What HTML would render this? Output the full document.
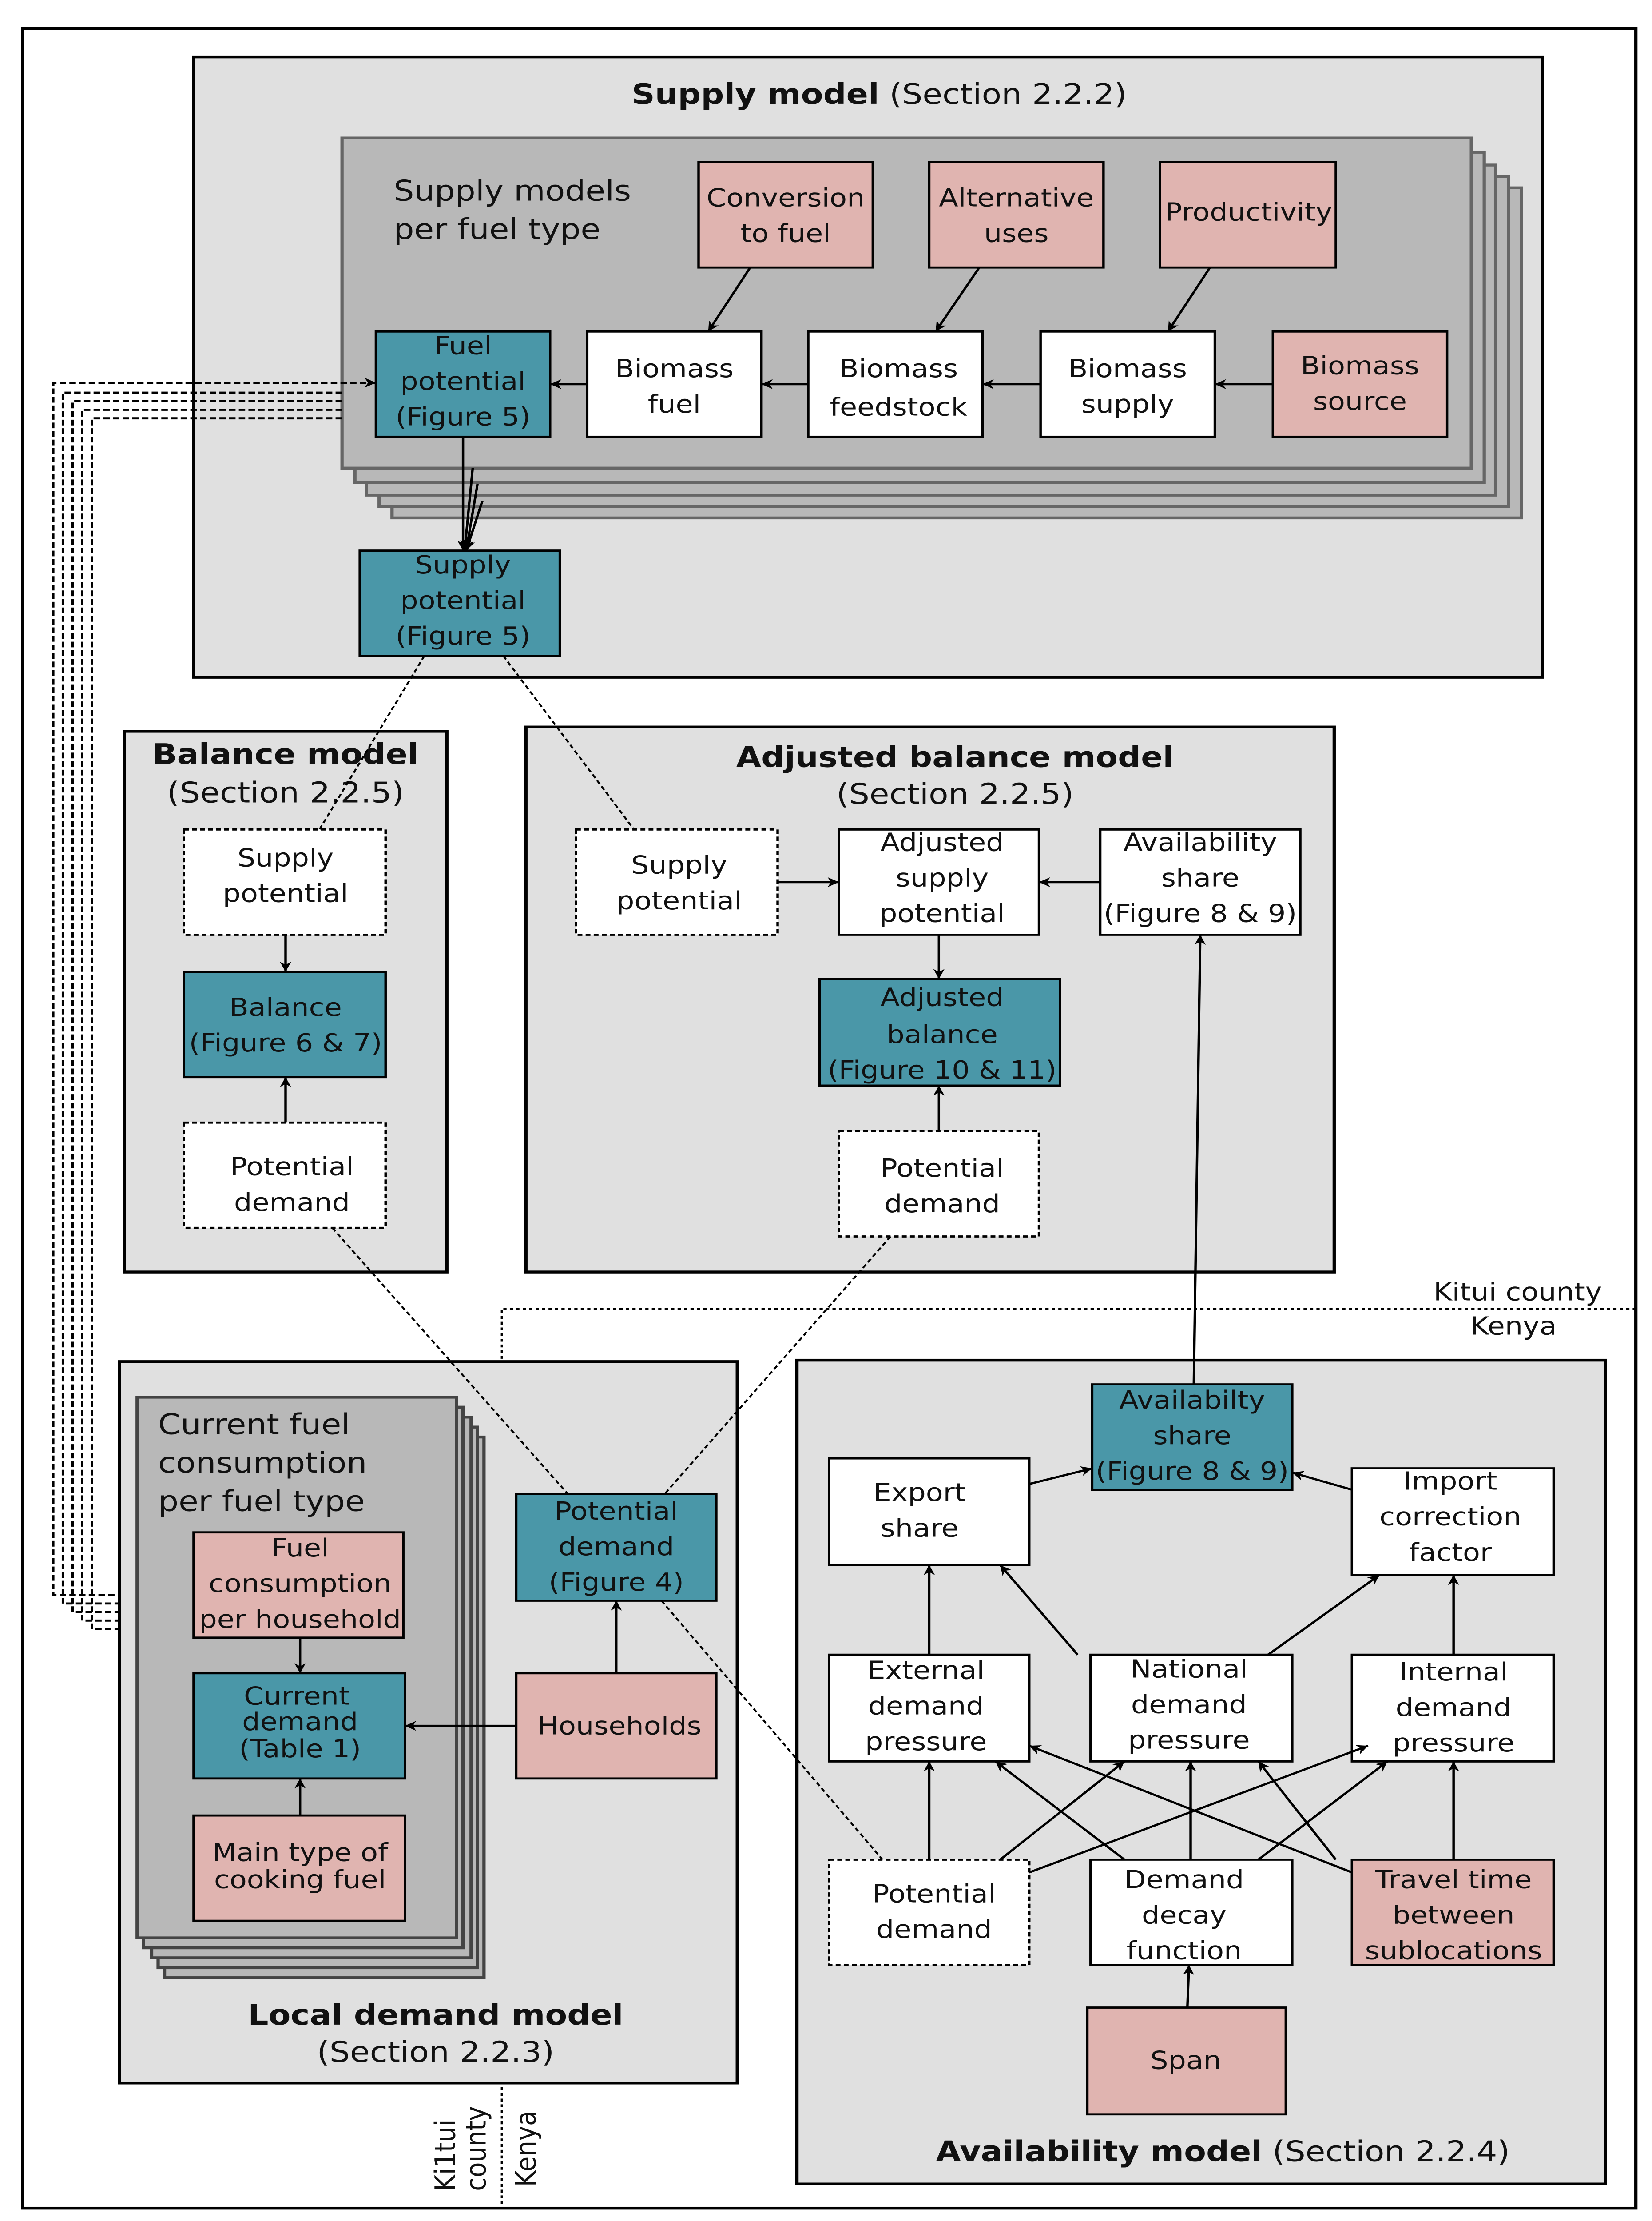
<!DOCTYPE html>
<html><head><meta charset="utf-8"><style>
html,body{margin:0;padding:0;background:#fff;width:100%;height:100%;overflow:hidden;}
svg{display:block;position:fixed;left:0;top:0;width:100vw;height:100vh;}
text{font-family:"DejaVu Sans","Liberation Sans",sans-serif;font-size:17.5px;fill:#111;text-anchor:middle;}
.b{font-weight:bold;font-size:20px;}
.t{font-size:20px;}
.l{text-anchor:start;font-size:20px;}
</style></head><body>
<svg viewBox="0 0 1024 1561" preserveAspectRatio="none" xmlns="http://www.w3.org/2000/svg">
<defs>
<marker id="a" viewBox="0 0 10 10" refX="10" refY="5" markerWidth="7" markerHeight="7" orient="auto-start-reverse" markerUnits="userSpaceOnUse"><path d="M0,0 L10,5 L0,10 L3,5 z" fill="#000"/></marker>
</defs>
<rect x="0" y="0" width="1024" height="1561" fill="#fff"/>
<rect x="14" y="20" width="1000" height="1532" fill="#fff" stroke="#000" stroke-width="2"/>

<rect x="120" y="40" width="836" height="436" fill="#e0e0e0" stroke="#000" stroke-width="2"/>
<text x="545" y="73" class="t"><tspan font-weight="bold">Supply model</tspan> (Section 2.2.2)</text>
<g fill="#b8b8b8" stroke="#666" stroke-width="2">
<rect x="243" y="132" width="700" height="232"/>
<rect x="235" y="124" width="700" height="232"/>
<rect x="227" y="116" width="700" height="232"/>
<rect x="220" y="107" width="700" height="232"/>
<rect x="212" y="97" width="700" height="232"/>
</g>
<text x="244" y="141" class="l">Supply models</text>
<text x="244" y="168" class="l">per fuel type</text>
<g stroke="#000" stroke-width="1.5">
<rect x="433" y="114" width="108" height="74" fill="#e0b4b0"/>
<rect x="576" y="114" width="108" height="74" fill="#e0b4b0"/>
<rect x="719" y="114" width="109" height="74" fill="#e0b4b0"/>
<rect x="233" y="233" width="108" height="74" fill="#4a97a8"/>
<rect x="364" y="233" width="108" height="74" fill="#fff"/>
<rect x="501" y="233" width="108" height="74" fill="#fff"/>
<rect x="645" y="233" width="108" height="74" fill="#fff"/>
<rect x="789" y="233" width="108" height="74" fill="#e0b4b0"/>
<rect x="223" y="387" width="124" height="74" fill="#4a97a8"/>
</g>
<text x="487" y="145">Conversion</text><text x="487" y="170">to fuel</text>
<text x="630" y="145">Alternative</text><text x="630" y="170">uses</text>
<text x="774" y="155">Productivity</text>
<text x="287" y="249">Fuel</text><text x="287" y="274">potential</text><text x="287" y="299">(Figure 5)</text>
<text x="418" y="265">Biomass</text><text x="418" y="290">fuel</text>
<text x="557" y="265">Biomass</text><text x="557" y="292">feedstock</text>
<text x="699" y="265">Biomass</text><text x="699" y="290">supply</text>
<text x="843" y="263">Biomass</text><text x="843" y="288">source</text>
<text x="287" y="403">Supply</text><text x="287" y="428">potential</text><text x="287" y="453">(Figure 5)</text>
<g stroke="#000" stroke-width="1.5" fill="none" marker-end="url(#a)">
<line x1="465" y1="188" x2="439" y2="233"/>
<line x1="607" y1="188" x2="580" y2="233"/>
<line x1="750" y1="188" x2="724" y2="233"/>
<line x1="789" y1="270" x2="753" y2="270"/>
<line x1="645" y1="270" x2="609" y2="270"/>
<line x1="501" y1="270" x2="472" y2="270"/>
<line x1="364" y1="270" x2="341" y2="270"/>
<line x1="287" y1="307" x2="287" y2="387"/>
<line x1="293" y1="329" x2="288" y2="387"/>
<line x1="296" y1="340" x2="289" y2="387"/>
<line x1="299" y1="352" x2="289" y2="387"/>
</g>

<g stroke="#000" stroke-width="1.5" fill="none" stroke-dasharray="4,2">
<polyline points="233,269 33,269 33,1121 120,1121" marker-start="url(#a)"/>
<polyline points="212,276 39,276 39,1127 120,1127"/>
<polyline points="212,282 45,282 45,1133 85,1133"/>
<polyline points="212,288 51,288 51,1139 85,1139"/>
<polyline points="212,294 57,294 57,1145 85,1145"/>
</g>

<rect x="77" y="514" width="200" height="380" fill="#e0e0e0" stroke="#000" stroke-width="2"/>
<text x="177" y="537" class="b">Balance model</text>
<text x="177" y="564" class="t">(Section 2.2.5)</text>
<g stroke="#000" stroke-width="1.5">
<rect x="114" y="583" width="125" height="74" fill="#fff" stroke-dasharray="3,2"/>
<rect x="114" y="683" width="125" height="74" fill="#4a97a8"/>
<rect x="114" y="789" width="125" height="74" fill="#fff" stroke-dasharray="3,2"/>
</g>
<text x="177" y="609">Supply</text><text x="177" y="634">potential</text>
<text x="177" y="714">Balance</text><text x="177" y="739">(Figure 6 &amp; 7)</text>
<text x="181" y="826">Potential</text><text x="181" y="851">demand</text>

<rect x="326" y="511" width="501" height="383" fill="#e0e0e0" stroke="#000" stroke-width="2"/>
<text x="592" y="539" class="b">Adjusted balance model</text>
<text x="592" y="565" class="t">(Section 2.2.5)</text>
<g stroke="#000" stroke-width="1.5">
<rect x="357" y="583" width="125" height="74" fill="#fff" stroke-dasharray="3,2"/>
<rect x="520" y="583" width="124" height="74" fill="#fff"/>
<rect x="682" y="583" width="124" height="74" fill="#fff"/>
<rect x="508" y="688" width="149" height="75" fill="#4a97a8"/>
<rect x="520" y="795" width="124" height="74" fill="#fff" stroke-dasharray="3,2"/>
</g>
<text x="421" y="614">Supply</text><text x="421" y="639">potential</text>
<text x="584" y="598">Adjusted</text><text x="584" y="623">supply</text><text x="584" y="648">potential</text>
<text x="744" y="598">Availability</text><text x="744" y="623">share</text><text x="744" y="648">(Figure 8 &amp; 9)</text>
<text x="584" y="707">Adjusted</text><text x="584" y="733">balance</text><text x="584" y="758">(Figure 10 &amp; 11)</text>
<text x="584" y="827">Potential</text><text x="584" y="852">demand</text>
<g stroke="#000" stroke-width="1.5" fill="none" marker-end="url(#a)">
<line x1="177" y1="657" x2="177" y2="683"/>
<line x1="177" y1="789" x2="177" y2="757"/>
<line x1="482" y1="620" x2="520" y2="620"/>
<line x1="682" y1="620" x2="644" y2="620"/>
<line x1="582" y1="657" x2="582" y2="688"/>
<line x1="582" y1="795" x2="582" y2="763"/>
</g>

<g stroke="#000" stroke-width="1.2" fill="none" stroke-dasharray="2,2">
<polyline points="311,955 311,920 1014,920"/>
<line x1="311" y1="1467" x2="311" y2="1552"/>
</g>
<text x="993" y="914" style="text-anchor:end">Kitui county</text>
<text x="965" y="938" style="text-anchor:end">Kenya</text>
<text transform="translate(282,1540) rotate(-90)" style="text-anchor:start">Ki1tui</text>
<text transform="translate(301,1540) rotate(-90)" style="text-anchor:start">county</text>
<text transform="translate(332,1537) rotate(-90)" style="text-anchor:start">Kenya</text>

<rect x="74" y="957" width="383" height="507" fill="#e0e0e0" stroke="#000" stroke-width="2"/>
<g fill="#b8b8b8" stroke="#444" stroke-width="2">
<rect x="102" y="1010" width="198" height="380"/>
<rect x="98" y="1003" width="198" height="380"/>
<rect x="94" y="996" width="198" height="380"/>
<rect x="89" y="989" width="198" height="380"/>
<rect x="85" y="982" width="198" height="380"/>
</g>
<text x="98" y="1008" class="l">Current fuel</text>
<text x="98" y="1035" class="l">consumption</text>
<text x="98" y="1062" class="l">per fuel type</text>
<g stroke="#000" stroke-width="1.5">
<rect x="120" y="1077" width="130" height="74" fill="#e0b4b0"/>
<rect x="120" y="1176" width="131" height="74" fill="#4a97a8"/>
<rect x="120" y="1276" width="131" height="74" fill="#e0b4b0"/>
<rect x="320" y="1050" width="124" height="75" fill="#4a97a8"/>
<rect x="320" y="1176" width="124" height="74" fill="#e0b4b0"/>
</g>
<text x="186" y="1094">Fuel</text><text x="186" y="1119">consumption</text><text x="186" y="1144">per household</text>
<text x="184" y="1198">Current</text><text x="186" y="1216">demand</text><text x="186" y="1235">(Table 1)</text>
<text x="186" y="1308">Main type of</text><text x="186" y="1327">cooking fuel</text>
<text x="382" y="1068">Potential</text><text x="382" y="1093">demand</text><text x="382" y="1118">(Figure 4)</text>
<text x="384" y="1219">Households</text>
<text x="270" y="1423" class="b">Local demand model</text>
<text x="270" y="1449" class="t">(Section 2.2.3)</text>
<g stroke="#000" stroke-width="1.5" fill="none" marker-end="url(#a)">
<line x1="186" y1="1151" x2="186" y2="1176"/>
<line x1="186" y1="1276" x2="186" y2="1250"/>
<line x1="320" y1="1213" x2="251" y2="1213"/>
<line x1="382" y1="1176" x2="382" y2="1125"/>
</g>

<rect x="494" y="956" width="501" height="579" fill="#e0e0e0" stroke="#000" stroke-width="2"/>
<g stroke="#000" stroke-width="1.5">
<rect x="677" y="973" width="124" height="74" fill="#4a97a8"/>
<rect x="514" y="1025" width="124" height="75" fill="#fff"/>
<rect x="838" y="1032" width="125" height="75" fill="#fff"/>
<rect x="514" y="1163" width="124" height="75" fill="#fff"/>
<rect x="676" y="1163" width="125" height="75" fill="#fff"/>
<rect x="838" y="1163" width="125" height="75" fill="#fff"/>
<rect x="514" y="1307" width="124" height="74" fill="#fff" stroke-dasharray="3,2"/>
<rect x="676" y="1307" width="125" height="74" fill="#fff"/>
<rect x="838" y="1307" width="125" height="74" fill="#e0b4b0"/>
<rect x="674" y="1411" width="123" height="75" fill="#e0b4b0"/>
</g>
<text x="739" y="990">Availabilty</text><text x="739" y="1015">share</text><text x="739" y="1040">(Figure 8 &amp; 9)</text>
<text x="570" y="1055">Export</text><text x="570" y="1080">share</text>
<text x="899" y="1047">Import</text><text x="899" y="1072">correction</text><text x="899" y="1097">factor</text>
<text x="574" y="1180">External</text><text x="574" y="1205">demand</text><text x="574" y="1230">pressure</text>
<text x="737" y="1179">National</text><text x="737" y="1204">demand</text><text x="737" y="1229">pressure</text>
<text x="901" y="1181">Internal</text><text x="901" y="1206">demand</text><text x="901" y="1231">pressure</text>
<text x="579" y="1337">Potential</text><text x="579" y="1362">demand</text>
<text x="734" y="1327">Demand</text><text x="734" y="1352">decay</text><text x="734" y="1377">function</text>
<text x="901" y="1327">Travel time</text><text x="901" y="1352">between</text><text x="901" y="1377">sublocations</text>
<text x="735" y="1454">Span</text>
<text x="758" y="1519" class="t"><tspan font-weight="bold">Availability model</tspan> (Section 2.2.4)</text>
<g stroke="#000" stroke-width="1.5" fill="none" marker-end="url(#a)">
<line x1="740" y1="973" x2="744" y2="657"/>
<line x1="638" y1="1043" x2="677" y2="1032"/>
<line x1="838" y1="1047" x2="801" y2="1035"/>
<line x1="576" y1="1163" x2="576" y2="1100"/>
<line x1="668" y1="1163" x2="620" y2="1100"/>
<line x1="786" y1="1163" x2="855" y2="1107"/>
<line x1="901" y1="1163" x2="901" y2="1107"/>
<line x1="576" y1="1307" x2="576" y2="1238"/>
<line x1="620" y1="1307" x2="697" y2="1238"/>
<line x1="638" y1="1316" x2="848" y2="1227"/>
<line x1="697" y1="1307" x2="617" y2="1238"/>
<line x1="738" y1="1307" x2="738" y2="1238"/>
<line x1="780" y1="1307" x2="860" y2="1238"/>
<line x1="838" y1="1316" x2="638" y2="1227"/>
<line x1="828" y1="1307" x2="780" y2="1238"/>
<line x1="901" y1="1307" x2="901" y2="1238"/>
<line x1="736" y1="1411" x2="737" y2="1381"/>
</g>

<g stroke="#000" stroke-width="1.2" fill="none" stroke-dasharray="3,2">
<line x1="263" y1="461" x2="198" y2="583"/>
<line x1="312" y1="461" x2="393" y2="583"/>
<line x1="206" y1="863" x2="352" y2="1050"/>
<line x1="552" y1="869" x2="412" y2="1050"/>
<line x1="410" y1="1125" x2="547" y2="1307"/>
</g>
</svg>
</body></html>
